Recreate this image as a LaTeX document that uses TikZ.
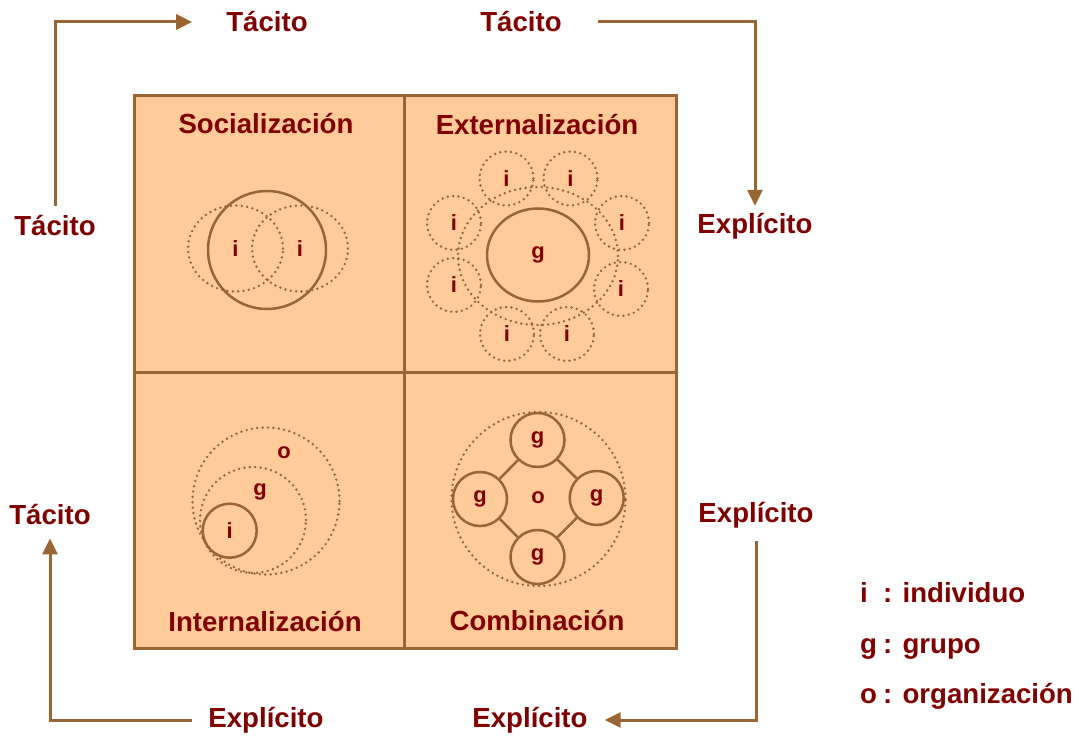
\documentclass[tikz,border=0pt]{standalone}
\usepackage{fontspec}
\setmainfont{Liberation Sans}
\usetikzlibrary{arrows.meta,shapes.geometric}
\definecolor{txtred}{HTML}{800000}
\definecolor{brownline}{HTML}{996633}
\definecolor{peach}{HTML}{FFCC99}
\begin{document}
\begin{tikzpicture}[x=1pt,y=-1pt,
  lbl/.style={text=txtred,font=\bfseries\fontsize{27.6}{32}\selectfont,inner sep=0pt},
  small/.style={text=txtred,font=\bfseries\fontsize{22}{26}\selectfont,inner sep=0pt},
  quad/.style={draw=brownline,fill=peach,line width=3pt},
  solidc/.style={draw=brownline,line width=2.5pt,circle,inner sep=0pt,text=txtred,font=\bfseries\fontsize{22}{26}\selectfont},
  solide/.style={draw=brownline,line width=2.5pt,ellipse,inner sep=0pt,text=txtred,font=\bfseries\fontsize{22}{26}\selectfont},
  dotc/.style={draw=brownline,line width=2.7pt,dash pattern=on 0pt off 5.4pt,line cap=round,circle,inner sep=0pt,text=txtred,font=\bfseries\fontsize{22}{26}\selectfont},
  dote/.style={draw=brownline,line width=2.7pt,dash pattern=on 0pt off 5.4pt,line cap=round,ellipse,inner sep=0pt,text=txtred,font=\bfseries\fontsize{22}{26}\selectfont},
  flow/.style={draw=brownline,line width=3pt,-{Triangle[length=16pt,width=15pt]}},
  link/.style={draw=brownline,line width=2.5pt}]
\useasboundingbox (0,0) rectangle (1079,738);
% quadrants
\draw[quad] (134,96) rectangle (404.5,372);
\draw[quad] (404.5,96) rectangle (676,372);
\draw[quad] (134,372) rectangle (404.5,648);
\draw[quad] (404.5,372) rectangle (676,648);
% titles
\node[lbl] (tsoc) at (266,124) {Socialización};
\node[lbl] (text) at (537,125) {Externalización};
\node[lbl] (tint) at (265,622) {Internalización};
\node[lbl] (tcom) at (537,621) {Combinación};
% socializacion
\node[dote,minimum width=95pt,minimum height=86pt] (s1) at (235.5,248.5) {i};
\node[dote,minimum width=96pt,minimum height=86pt] (s2) at (300,248.5) {i};
\node[solidc,minimum size=118pt] (s0) at (267,250) {};
% externalizacion
\node[dote,minimum width=160pt,minimum height=138pt] (ering) at (538,256) {};
\node[solide,minimum width=102pt,minimum height=93pt] (eg) at (538,255) {g};
\foreach \n/\x/\y in {e1/506.5/178.5,e2/570.5/178.5,e3/622/223,e4/621/289,e5/567/334,e6/507/334,e7/454/285,e8/454/223}
  \node[dotc,minimum size=54pt] (\n) at (\x,\y) {i};
% internalizacion
\node[dotc,minimum size=147pt] (io) at (266,501) {};
\node[dotc,minimum size=106pt] (ig) at (253,520) {};
\node[solidc,minimum size=54pt] (ii) at (229.7,530.7) {i};
\node[small] (lo) at (284,453) {o};
\node[small] (lg) at (260,492) {g};
% combinacion
\node[dotc,minimum size=174pt] (co) at (538.5,499) {};
\node[small] (lco) at (538,498) {o};
\node[solidc,minimum size=54pt] (cg1) at (537.5,440) {g};
\node[solidc,minimum size=54pt] (cg2) at (596.7,498) {g};
\node[solidc,minimum size=54pt] (cg3) at (537.5,557) {g};
\node[solidc,minimum size=54pt] (cg4) at (480,499) {g};
\draw[link] (cg1) -- (cg2);
\draw[link] (cg2) -- (cg3);
\draw[link] (cg3) -- (cg4);
\draw[link] (cg4) -- (cg1);
% outer labels
\node[lbl] (tt1) at (267,22) {Tácito};
\node[lbl] (tt2) at (521,22) {Tácito};
\node[lbl] (tl1) at (55,226) {Tácito};
\node[lbl] (er1) at (755,226) {Explícito};
\node[lbl] (tl2) at (50,515) {Tácito};
\node[lbl] (er2) at (756,515) {Explícito};
\node[lbl] (eb1) at (266,720) {Explícito};
\node[lbl] (eb2) at (530,720) {Explícito};
% arrows
\draw[flow,shorten <=10pt,shorten >=34pt] (tl1.north) |- (tt1.west);
\draw[flow,shorten <=36pt,shorten >=7pt] (tt2.east) -| (er1.north);
\draw[flow,shorten <=13pt,shorten >=17pt] (er2.south) |- (eb2.east);
\draw[flow,shorten <=16pt,shorten >=13pt] (eb1.west) -| (tl2.south);
% legend
\node[lbl,anchor=base west] (lgi) at (860,602) {i};
\node[lbl,anchor=base west] (lgg) at (860,653) {g};
\node[lbl,anchor=base west] (lgo) at (860,703) {o};
\node[lbl,anchor=base west] (lgi2) at (883,602) {: individuo};
\node[lbl,anchor=base west] (lgg2) at (883,653) {: grupo};
\node[lbl,anchor=base west] (lgo2) at (883,703) {: organización};
\end{tikzpicture}
\end{document}
